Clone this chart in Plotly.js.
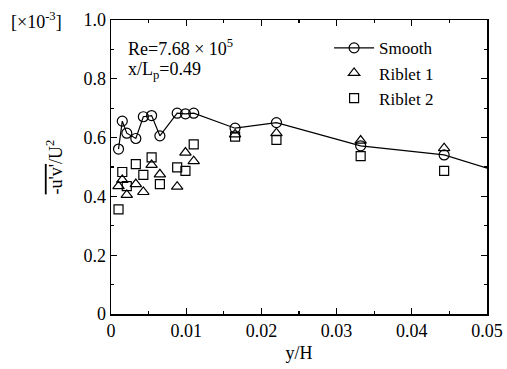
<!DOCTYPE html>
<html><head><meta charset="utf-8">
<script src="https://cdn.plot.ly/plotly-3.0.1.min.js"></script>
<style>html,body{margin:0;padding:0;background:#fff}#plot{width:507px;height:369px}</style>
</head><body><div id="plot"></div>
<script>
// y/H positions
const yH = [0.0010, 0.0015, 0.0021, 0.0033, 0.0043, 0.0054, 0.0065, 0.0088, 0.0099, 0.0110, 0.0165, 0.0220, 0.0332, 0.0443];
const smoothX = [0.0010, 0.0015, 0.0021, 0.0033, 0.0043, 0.0054, 0.0065, 0.0088, 0.0099, 0.0110, 0.0165, 0.0220, 0.0332, 0.0443, 0.0555];
const smooth = [0.561, 0.656, 0.615, 0.597, 0.671, 0.675, 0.606, 0.683, 0.681, 0.683, 0.632, 0.651, 0.572, 0.541, 0.453];
const riblet1 = [0.435, 0.456, 0.405, 0.442, 0.415, 0.507, 0.475, 0.433, 0.549, 0.520, 0.611, 0.615, 0.590, 0.564];
const riblet2 = [0.356, 0.483, 0.435, 0.510, 0.473, 0.533, 0.442, 0.499, 0.487, 0.577, 0.603, 0.592, 0.537, 0.487];
const xTicks = [0, 0.01, 0.02, 0.03, 0.04, 0.05];
const xTickText = ['0', '0.01', '0.02', '0.03', '0.04', '0.05'];
const yTicks = [0, 0.2, 0.4, 0.6, 0.8, 1.0];
const yTickText = ['0', '0.2', '0.4', '0.6', '0.8', '1.0'];

const font = {family: '"Liberation Serif", "Times New Roman", serif', size: 18, color: '#000'};
const legendFont = {family: font.family, size: 17, color: '#000'};
const traces = [
  {x: smoothX, y: smooth, name: 'Smooth', mode: 'lines+markers', type: 'scatter',
   line: {color: '#000', width: 1.2},
   marker: {symbol: 'circle-open', size: 10, color: '#000', line: {width: 1.2, color: '#000'}}},
  {x: yH, y: riblet1, name: 'Riblet 1', mode: 'markers', type: 'scatter',
   marker: {symbol: 'triangle-up-open', size: 10, color: '#000', line: {width: 1.2, color: '#000'}}},
  {x: yH, y: riblet2, name: 'Riblet 2', mode: 'markers', type: 'scatter',
   marker: {symbol: 'square-open', size: 9, color: '#000', line: {width: 1.2, color: '#000'}}}
];
const axisCommon = {showgrid: false, zeroline: false, showline: true, linecolor: '#000', linewidth: 1.5,
  mirror: 'ticks', ticks: 'inside', ticklen: 6, tickwidth: 1.2, tickcolor: '#000', tickfont: font};
const layout = {
  width: 507, height: 369,
  margin: {l: 111, r: 20, t: 20, b: 55},
  paper_bgcolor: '#fff', plot_bgcolor: '#fff',
  font: font,
  showlegend: true,
  legend: {x: 0.58, y: 0.965, xanchor: 'left', yanchor: 'top', bgcolor: 'rgba(0,0,0,0)',
    font: legendFont, itemwidth: 40, tracegroupgap: 0},
  xaxis: Object.assign({}, axisCommon, {range: [0, 0.05], tickvals: xTicks, ticktext: xTickText,
    minor: {dtick: 0.005, ticks: 'inside', ticklen: 3, tickcolor: '#000'},
    title: {text: 'y/H', font: font, standoff: 6}}),
  yaxis: Object.assign({}, axisCommon, {range: [0, 1.0], tickvals: yTicks, ticktext: yTickText,
    minor: {dtick: 0.1, ticks: 'inside', ticklen: 3, tickcolor: '#000'},
    title: {text: '<span style="text-decoration:overline">-u\'v\'</span>/U<sup>2</sup>', font: font, standoff: 16}}),
  annotations: [
    {xref: 'paper', yref: 'paper', x: 0.04, y: 0.905, xanchor: 'left', yanchor: 'middle', showarrow: false,
     text: 'Re=7.68 × 10<sup>5</sup>', font: font},
    {xref: 'paper', yref: 'paper', x: 0.04, y: 0.827, xanchor: 'left', yanchor: 'middle', showarrow: false,
     text: 'x/L<sub>p</sub>=0.49', font: font},
    {xref: 'paper', yref: 'paper', x: -0.27, y: 1.0, xanchor: 'left', yanchor: 'middle', showarrow: false,
     text: '[×10<sup>-3</sup>]', font: font}
  ]
};
Plotly.newPlot('plot', traces, layout, {displayModeBar: false, staticPlot: true});
</script></body></html>
